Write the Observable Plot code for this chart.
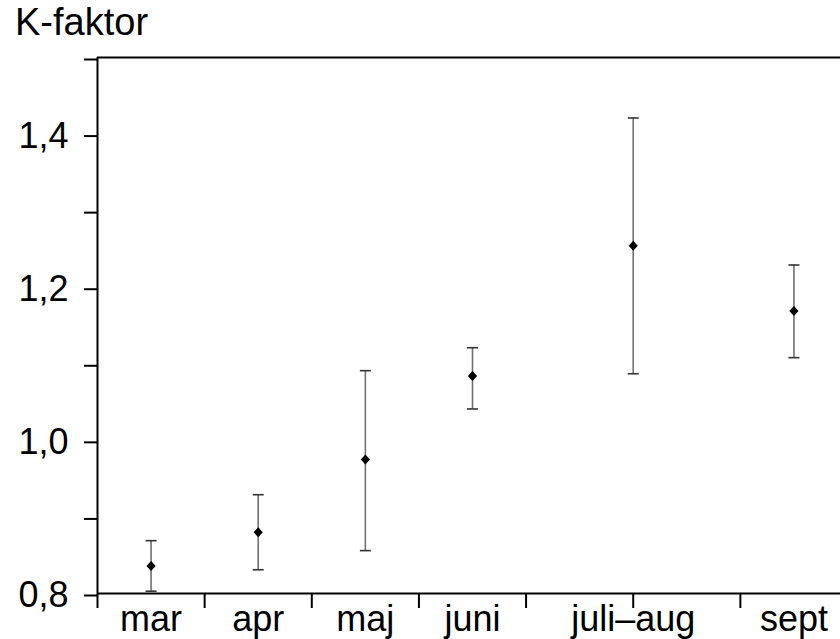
<!DOCTYPE html>
<html>
<head>
<meta charset="utf-8">
<script src="https://cdn.jsdelivr.net/npm/d3@7"></script>
<script src="https://cdn.jsdelivr.net/npm/@observablehq/plot@0.6"></script>
<style>
  html, body { margin: 0; padding: 0; background: white; }
  #wrap { position: relative; width: 840px; height: 639px; overflow: hidden; }
  #title { position: absolute; left: 15px; top: 3px; font-family: "Liberation Sans", Arial, sans-serif; font-size: 38px; line-height: 38px; color: black; }
</style>
</head>
<body>
<div id="wrap"><div id="title">K-faktor</div></div>
<script>
// Categories and their time span (in months from start of March)
const categories = ["mar", "apr", "maj", "juni", "juli–aug", "sept"];
const spanStart = [0, 1, 2, 3, 4, 6];
const spanEnd   = [1, 2, 3, 4, 6, 7];
// Series values
const meanK  = [0.836, 0.880, 0.975, 1.084, 1.254, 1.169];
const lowerK = [0.803, 0.831, 0.856, 1.041, 1.087, 1.108];
const upperK = [0.869, 0.929, 1.091, 1.121, 1.421, 1.229];
// Tick values
const yTicks = [0.8, 0.9, 1.0, 1.1, 1.2, 1.3, 1.4, 1.5];
const xBoundaries = [0, 1, 2, 3, 4, 5, 6, 7];

const rows = categories.map((c, i) => ({
  cat: c,
  pos: (spanStart[i] + spanEnd[i]) / 2,
  mean: meanK[i], lo: lowerK[i], hi: upperK[i]
}));
const centers = rows.map(d => d.pos);

const capSymbol = {
  draw(ctx, size) {
    const r = Math.sqrt(size / Math.PI);
    ctx.moveTo(-r, 0); ctx.lineTo(r, 0);
  }
};
const diamondSymbol = {
  draw(ctx, size) {
    const r = Math.sqrt(size / Math.PI);
    ctx.moveTo(0, -r); ctx.lineTo(r * 0.92, 0); ctx.lineTo(0, r); ctx.lineTo(-r * 0.92, 0); ctx.closePath();
  }
};

const fmt = d => {
  const t = Math.round(d * 10);
  return t % 2 === 0 && t < 15 ? (t / 10).toFixed(1).replace(".", ",") : "";
};

const chart = Plot.plot({
  width: 840,
  height: 639,
  marginTop: 57,
  marginLeft: 97,
  marginRight: 0,
  marginBottom: 46,
  style: { fontFamily: "'Liberation Sans', Arial, sans-serif", fontSize: "36px", color: "black", background: "white" },
  x: { domain: [0, 7], range: [97, 847], label: null },
  y: { domain: [0.8, 1.5], range: [593, 57], label: null },
  marks: [
    Plot.axisY({ ticks: yTicks, tickSize: 13, tickPadding: 16, tickFormat: fmt, strokeWidth: 2, dy: 2, label: null }),
    Plot.axisX({ ticks: xBoundaries, tickSize: 15, tickFormat: () => "", strokeWidth: 2, label: null }),
    Plot.axisX({ ticks: centers, tickSize: 0, tickPadding: 12, tickFormat: d => categories[centers.indexOf(d)], label: null }),
    Plot.ruleX([0], { stroke: "black", strokeWidth: 2 }),
    Plot.ruleY([0.8, 1.5], { stroke: "black", strokeWidth: 2 }),
    Plot.ruleX(rows, { x: "pos", y1: "lo", y2: "hi", stroke: "#707070", strokeWidth: 1.6 }),
    Plot.dot(rows, { x: "pos", y: "lo", symbol: capSymbol, r: 5.5, stroke: "#333", strokeWidth: 1.6, fill: "none" }),
    Plot.dot(rows, { x: "pos", y: "hi", symbol: capSymbol, r: 5.5, stroke: "#333", strokeWidth: 1.6, fill: "none" }),
    Plot.dot(rows, { x: "pos", y: "mean", symbol: diamondSymbol, r: 5, fill: "black", stroke: "none" })
  ]
});
document.getElementById("wrap").appendChild(chart);
</script>
</body>
</html>
